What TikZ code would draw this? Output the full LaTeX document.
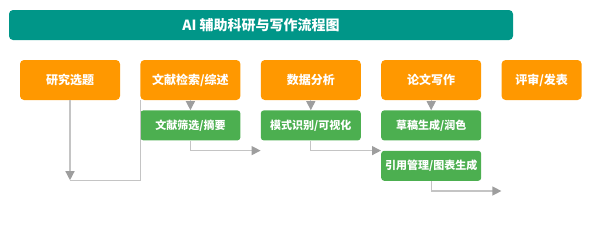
\documentclass[tikz,border=0pt]{standalone}
\usepackage{fontspec}
\setmainfont{Noto Sans CJK SC}
\usetikzlibrary{arrows.meta,positioning}
\definecolor{TitleFill}{HTML}{009688}
\definecolor{StageFill}{HTML}{FF9800}
\definecolor{SubFill}{HTML}{4CAF50}
\definecolor{LinkLine}{HTML}{C4C4C4}
\definecolor{LinkTip}{HTML}{9E9E9E}
\tikzset{
  flow/.style={-{Triangle[length=9pt,width=9pt,color=LinkTip]}, draw=LinkLine, line width=1.3pt},
  link/.style={draw=LinkLine, line width=1.3pt},
  titlebar/.style={fill=TitleFill, rounded corners=4pt, text=white,
    font=\bfseries\fontsize{14}{16}\selectfont, minimum width=504pt, minimum height=30pt},
  stage/.style={fill=StageFill, rounded corners=4pt, text=white, inner sep=0pt,
    font=\bfseries\fontsize{12}{14}\selectfont, minimum width=100pt, minimum height=40pt},
  sub/.style={fill=SubFill, rounded corners=3pt, text=white, inner sep=0pt,
    font=\bfseries\fontsize{11}{13}\selectfont, minimum width=100pt, minimum height=30pt},
}

\begin{document}
\begin{tikzpicture}[x=1pt, y=-1pt, node distance=20pt]
  \useasboundingbox (0,0) rectangle (600,250);

  % Heading across the top.
  \node[titlebar] (heading) at (261,25) {AI 辅助科研与写作流程图};

  % Main stages along one row.
  \node[stage] (topic) at (70,80) {研究选题};
  \node[stage, right=of topic] (review) {文献检索/综述};
  \node[stage, right=of review] (analysis) {数据分析};
  \node[stage, right=of analysis] (writing) {论文写作};
  \node[stage, minimum width=80pt, right=of writing] (publish) {评审/发表};

  % AI-assisted steps beneath their stages.
  \node[sub, below=10pt of review] (filter) {文献筛选/摘要};
  \node[sub, below=10pt of analysis] (pattern) {模式识别/可视化};
  \node[sub, below=10pt of writing] (draft) {草稿生成/润色};
  \node[sub, below=10pt of draft] (cite) {引用管理/图表生成};

  % Free ends of the elbow connectors.
  \coordinate (topicEnd) at ([yshift=-80pt]topic.south);
  \coordinate (filterEnd) at ([yshift=-10pt]pattern.south west);
  \coordinate (citeEnd) at ([yshift=-10pt]cite.south -| publish.west);

  \draw[flow] (topic.south) -- (topicEnd);
  \draw[link] (review.south west) |- (topicEnd);
  \draw[flow] (review.south) -- (filter.north);
  \draw[flow] (analysis.south) -- (pattern.north);
  \draw[flow] (writing.south) -- (draft.north);
  \draw[flow] (filter.south) |- (filterEnd);
  \draw[flow] (pattern.south) |- (cite.north west);
  \draw[flow] (cite.south) |- (citeEnd);

\end{tikzpicture}
\end{document}
